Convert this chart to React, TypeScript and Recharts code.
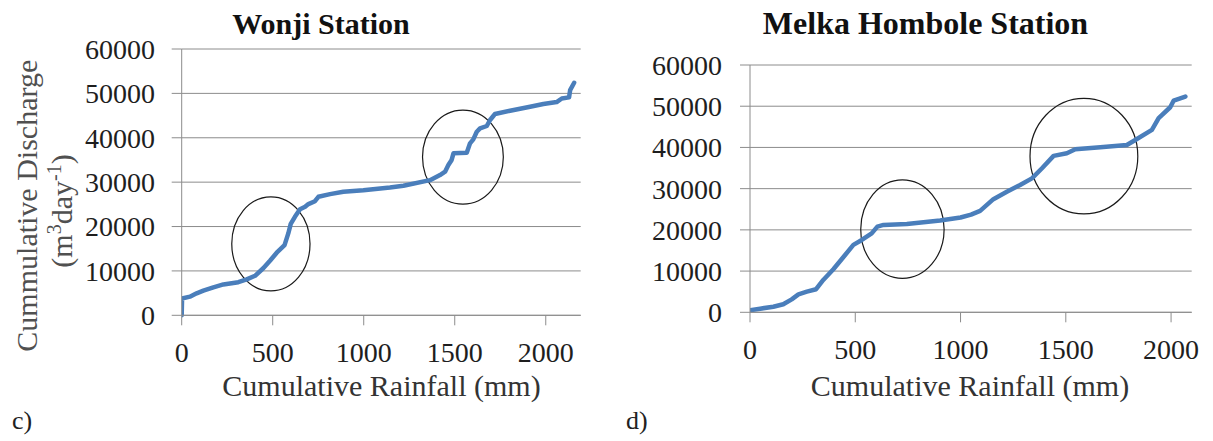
import React from 'react';
import { LineChart, Line, XAxis, YAxis, CartesianGrid, ReferenceArea } from 'recharts';

// ---- shared axis ticks ----
const xTicks = [0, 500, 1000, 1500, 2000];
const yTicks = [0, 10000, 20000, 30000, 40000, 50000, 60000];

// ---- Wonji Station (c) ----
const wonjiRain = [
  0, 2, 45, 82, 119, 174, 229, 311, 357, 403, 448, 485, 522, 565, 586, 599, 622, 650, 678, 696,
  732, 751, 815, 888, 998, 1144, 1218, 1364, 1419, 1447, 1465, 1483, 1493, 1566, 1584, 1602, 1621,
  1639, 1676, 1694, 1721, 1804, 1914, 1987, 2060, 2088, 2128, 2134, 2156,
];
const wonjiDischarge = [
  0, 3800, 4200, 4950, 5550, 6300, 6950, 7450, 8100, 8900, 10600, 12300, 14100, 15800, 18500, 20600,
  22200, 23900, 24450, 25050, 25700, 26700, 27300, 27850, 28200, 28800, 29200, 30450, 31600, 32350,
  33850, 35000, 36500, 36650, 38750, 39650, 41350, 42100, 42650, 44000, 45350, 46100, 47000, 47600,
  48050, 48850, 49100, 50750, 52400,
];
// annotation ellipses: centre and half-extent in data units
const wonjiEllipseX = [490, 1545];
const wonjiEllipseY = [16100, 35650];
const wonjiEllipseRx = [215, 222];
const wonjiEllipseRy = [10600, 10600];

// ---- Melka Hombole Station (d) ----
const melkaRain = [
  0, 48, 111, 158, 198, 230, 270, 314, 348, 396, 443, 491, 531, 578, 605, 634, 745, 903, 1000, 1050,
  1093, 1156, 1220, 1283, 1339, 1387, 1442, 1505, 1545, 1664, 1790, 1830, 1909, 1941, 1996, 2012, 2068,
];
const melkaDischarge = [
  500, 880, 1350, 1950, 3150, 4350, 5000, 5600, 7850, 10450, 13350, 16350, 17550, 19150, 20800, 21200,
  21450, 22250, 23000, 23700, 24600, 27450, 29250, 30900, 32500, 34950, 37950, 38600, 39550, 40050,
  40600, 41800, 44250, 47100, 49750, 51350, 52350,
];
const melkaEllipseX = [724, 1586];
const melkaEllipseY = [20170, 37890];
const melkaEllipseRx = [198, 256];
const melkaEllipseRy = [11940, 14030];

const FONT = 'Liberation Serif';
const GRID = '#8c8c8c';
const LINE = '#4a7ebb';
const TEXT = '#1e1e1e';

const EllipseShape = (p: any) => {
  const w = Math.abs(p.width);
  const h = Math.abs(p.height);
  return (
    <ellipse
      cx={p.x + w / 2}
      cy={p.y + h / 2}
      rx={w / 2}
      ry={h / 2}
      fill="none"
      stroke="#1a1a1a"
      strokeWidth={1.2}
    />
  );
};

type PanelProps = {
  rain: number[];
  discharge: number[];
  ex: number[];
  ey: number[];
  erx: number[];
  ery: number[];
  xMax: number;
  left: number;
  width: number;
  margin: { top: number; right: number; bottom: number; left: number };
  yTickMargin: number;
};

const Panel = ({ rain, discharge, ex, ey, erx, ery, xMax, left, width, margin, yTickMargin }: PanelProps) => {
  const data = rain.map((r, i) => ({ rain: r, q: discharge[i] }));
  return (
    <div style={{ position: 'absolute', left, top: 0, width, height: 441 }}>
      <LineChart width={width} height={441} data={data} margin={margin}>
        <CartesianGrid horizontal vertical={false} stroke={GRID} strokeWidth={1} />
        <XAxis
          dataKey="rain"
          type="number"
          domain={[0, xMax]}
          ticks={xTicks}
          allowDataOverflow
          height={60}
          tickSize={10}
          tickMargin={17}
          axisLine={{ stroke: GRID, strokeWidth: 1 }}
          tickLine={{ stroke: GRID, strokeWidth: 1 }}
          tick={{ fill: TEXT, fontSize: 28, fontFamily: FONT }}
          interval={0}
        />
        <YAxis
          type="number"
          domain={[0, 60000]}
          ticks={yTicks}
          width={100}
          tickSize={10}
          tickMargin={yTickMargin}
          axisLine={{ stroke: GRID, strokeWidth: 1 }}
          tickLine={{ stroke: GRID, strokeWidth: 1 }}
          tick={{ fill: TEXT, fontSize: 28, fontFamily: FONT }}
          interval={0}
        />
        <Line
          type="linear"
          dataKey="q"
          stroke={LINE}
          strokeWidth={4.5}
          dot={false}
          isAnimationActive={false}
          strokeLinejoin="round"
          strokeLinecap="round"
        />
        {ex.map((cx, i) => (
          <ReferenceArea
            key={i}
            x1={cx - erx[i]}
            x2={cx + erx[i]}
            y1={ey[i] - ery[i]}
            y2={ey[i] + ery[i]}
            shape={EllipseShape}
            ifOverflow="visible"
          />
        ))}
      </LineChart>
    </div>
  );
};

export default function App() {
  return (
    <div style={{ position: 'absolute', left: 0, top: 0, width: 1213, height: 441, background: '#fff', overflow: 'hidden' }}>
      <Panel
        rain={wonjiRain}
        discharge={wonjiDischarge}
        ex={wonjiEllipseX}
        ey={wonjiEllipseY}
        erx={wonjiEllipseRx}
        ery={wonjiEllipseRy}
        xMax={2192}
        left={0}
        width={600}
        margin={{ top: 49, right: 19.3, bottom: 65.7, left: 81.7 }}
        yTickMargin={16.7}
      />
      <Panel
        rain={melkaRain}
        discharge={melkaDischarge}
        ex={melkaEllipseX}
        ey={melkaEllipseY}
        erx={melkaEllipseRx}
        ery={melkaEllipseRy}
        xMax={2098}
        left={600}
        width={613}
        margin={{ top: 65, right: 21.3, bottom: 68.7, left: 50 }}
        yTickMargin={18}
      />
      <svg
        width={1213}
        height={441}
        style={{ position: 'absolute', left: 0, top: 0, pointerEvents: 'none', fontFamily: FONT }}
      >
        <text x={321} y={33.5} textAnchor="middle" fontSize={30} fontWeight="bold" fill="#111" style={{ fontFamily: FONT }}>
          Wonji Station
        </text>
        <text x={925.5} y={34} textAnchor="middle" fontSize={32} fontWeight="bold" fill="#111" style={{ fontFamily: FONT }}>
          Melka Hombole Station
        </text>
        <text x={381.5} y={396} textAnchor="middle" fontSize={30} fill="#333" style={{ fontFamily: FONT }}>
          Cumulative Rainfall (mm)
        </text>
        <text x={970} y={396} textAnchor="middle" fontSize={30} fill="#333" style={{ fontFamily: FONT }}>
          Cumulative Rainfall (mm)
        </text>
        <text x={37} y={205.7} textAnchor="middle" fontSize={30} fill="#505050" transform="rotate(-90 37 205.7)" style={{ fontFamily: FONT }}>
          Cummulative Discharge
        </text>
        <text x={72} y={211} textAnchor="middle" fontSize={30} fill="#505050" transform="rotate(-90 72 211)" style={{ fontFamily: FONT }}>
          (m<tspan fontSize={20} dy={-11}>3</tspan>
          <tspan dy={11}>day</tspan>
          <tspan fontSize={20} dy={-11}>-1</tspan>
          <tspan dy={11}>)</tspan>
        </text>
        <text x={12} y={429} fontSize={26} fill="#222" style={{ fontFamily: FONT }}>c)</text>
        <text x={626} y={429} fontSize={26} fill="#222" style={{ fontFamily: FONT }}>d)</text>
      </svg>
    </div>
  );
}
